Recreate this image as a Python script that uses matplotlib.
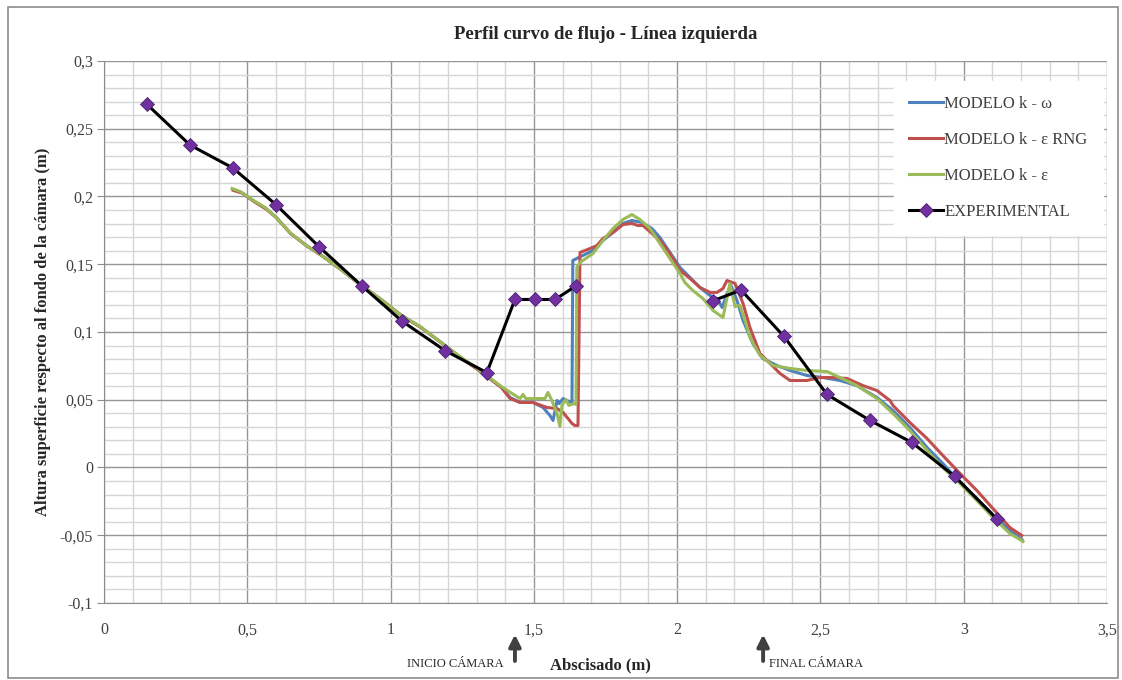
import matplotlib
matplotlib.use("Agg")
import matplotlib.pyplot as plt
from matplotlib.ticker import MultipleLocator, FuncFormatter
from matplotlib.patches import Rectangle

title = "Perfil curvo de flujo - Línea izquierda"
xlabel = "Abscisado (m)"
ylabel = "Altura superficie respecto al fondo de la cámara (m)"
labels = ["MODELO k - ω", "MODELO k - ε RNG", "MODELO k - ε", "EXPERIMENTAL"]

# experimental measurements (None marks the gap in the measured line)
exp_x = [0.15, 0.30, 0.45, 0.60, 0.75, 0.90, 1.04, 1.19, 1.336, 1.434, 1.504, 1.574,
         1.647, None, 2.125, 2.223, 2.373, 2.523, 2.673, 2.819, 2.969, 3.116]
exp_y = [0.268, 0.238, 0.221, 0.194, 0.163, 0.134, 0.108, 0.0863, 0.070, 0.124, 0.124, 0.124,
         0.134, None, 0.123, 0.131, 0.0967, 0.0539, 0.0347, 0.0185, -0.0066, -0.038]

green_x = [0.447, 0.475, 0.516, 0.562, 0.597, 0.649, 0.701, 0.754, 0.823, 0.893, 0.963, 1.033,
           1.103, 1.172, 1.242, 1.312, 1.382, 1.424, 1.452, 1.462, 1.472, 1.539, 1.549, 1.563,
           1.581, 1.591, 1.598, 1.612, 1.622, 1.640, 1.647, 1.650, 1.661, 1.706, 1.741, 1.776,
           1.811, 1.842, 1.870, 1.905, 1.940, 1.975, 2.010, 2.027, 2.055, 2.090, 2.125, 2.160,
           2.184, 2.202, 2.219, 2.237, 2.254, 2.289, 2.334, 2.394, 2.453, 2.523, 2.568, 2.627,
           2.697, 2.753, 2.812, 2.872, 2.927, 2.987, 3.046, 3.102, 3.161, 3.207]
green_y = [0.2059, 0.2037, 0.1978, 0.1919, 0.1852, 0.1734, 0.1646, 0.1572, 0.1469, 0.1351, 0.1247, 0.1129,
           0.1041, 0.0930, 0.0819, 0.0716, 0.0605, 0.0546, 0.0509, 0.0539, 0.0509, 0.0509, 0.0554, 0.0494,
           0.0399, 0.0303, 0.0458, 0.0502, 0.0458, 0.0472, 0.0465, 0.1476, 0.1513, 0.1579, 0.1675, 0.1764,
           0.1830, 0.1867, 0.1830, 0.1764, 0.1653, 0.1542, 0.1432, 0.1365, 0.1306, 0.1247, 0.1159, 0.1107,
           0.1358, 0.1188, 0.1196, 0.1085, 0.0959, 0.0827, 0.0753, 0.0731, 0.0716, 0.0708, 0.0664, 0.0605,
           0.0509, 0.0399, 0.0273, 0.0125, 0.0000, -0.0118, -0.0244, -0.0369, -0.0487, -0.0546]

blue_x = [0.450, 0.480, 0.520, 0.565, 0.600, 0.650, 0.705, 0.760, 0.825, 0.895, 0.965, 1.035,
          1.105, 1.175, 1.245, 1.315, 1.385, 1.417, 1.452, 1.497, 1.532, 1.556, 1.567, 1.581,
          1.588, 1.602, 1.615, 1.633, 1.636, 1.671, 1.706, 1.741, 1.776, 1.811, 1.842, 1.877,
          1.912, 1.940, 1.975, 2.010, 2.045, 2.080, 2.115, 2.139, 2.157, 2.174, 2.188, 2.209,
          2.230, 2.264, 2.299, 2.348, 2.394, 2.453, 2.509, 2.568, 2.627, 2.697, 2.753, 2.812,
          2.872, 2.927, 2.987, 3.046, 3.102, 3.161, 3.203]
blue_y = [0.2050, 0.2030, 0.1970, 0.1912, 0.1848, 0.1730, 0.1640, 0.1565, 0.1465, 0.1348, 0.1243, 0.1127,
          0.1036, 0.0925, 0.0812, 0.0708, 0.0595, 0.0517, 0.0480, 0.0480, 0.0443, 0.0384, 0.0347, 0.0494,
          0.0472, 0.0509, 0.0494, 0.0480, 0.1528, 0.1565, 0.1601, 0.1675, 0.1734, 0.1801, 0.1823, 0.1808,
          0.1764, 0.1697, 0.1587, 0.1476, 0.1402, 0.1328, 0.1269, 0.1247, 0.1181, 0.1284, 0.1343, 0.1232,
          0.1085, 0.0915, 0.0804, 0.0753, 0.0716, 0.0679, 0.0664, 0.0642, 0.0605, 0.0517, 0.0421, 0.0295,
          0.0148, 0.0030, -0.0111, -0.0229, -0.0354, -0.0465, -0.0531]

red_x = [0.452, 0.482, 0.522, 0.567, 0.602, 0.652, 0.707, 0.762, 0.827, 0.897, 0.967, 1.037,
         1.107, 1.177, 1.247, 1.317, 1.387, 1.417, 1.452, 1.497, 1.546, 1.581, 1.602, 1.619,
         1.633, 1.643, 1.654, 1.661, 1.696, 1.720, 1.741, 1.776, 1.811, 1.842, 1.863, 1.881,
         1.912, 1.940, 1.975, 2.010, 2.045, 2.080, 2.115, 2.139, 2.160, 2.174, 2.202, 2.230,
         2.254, 2.289, 2.324, 2.359, 2.394, 2.453, 2.498, 2.544, 2.593, 2.648, 2.697, 2.743,
         2.753, 2.812, 2.872, 2.927, 2.987, 3.046, 3.102, 3.161, 3.203]
red_y = [0.2045, 0.2025, 0.1965, 0.1905, 0.1842, 0.1725, 0.1636, 0.1560, 0.1460, 0.1345, 0.1240, 0.1123,
         0.1032, 0.0920, 0.0806, 0.0703, 0.0590, 0.0509, 0.0480, 0.0480, 0.0443, 0.0435, 0.0406, 0.0362,
         0.0325, 0.0310, 0.0310, 0.1587, 0.1616, 0.1638, 0.1690, 0.1734, 0.1793, 0.1801, 0.1786, 0.1786,
         0.1727, 0.1675, 0.1579, 0.1454, 0.1395, 0.1328, 0.1292, 0.1292, 0.1321, 0.1380, 0.1358, 0.1210,
         0.1033, 0.0841, 0.0768, 0.0694, 0.0642, 0.0642, 0.0664, 0.0664, 0.0657, 0.0605, 0.0568, 0.0494,
         0.0458, 0.0332, 0.0214, 0.0089, -0.0044, -0.0170, -0.0303, -0.0443, -0.0502]

arrow_x = [1.434, 2.30]
arrow_text = ["INICIO CÁMARA", "FINAL CÁMARA"]

plt.rcParams['font.family'] = ['Liberation Serif', 'DejaVu Serif']

fig = plt.figure(figsize=(11.22, 6.8), dpi=100)
ax = fig.add_axes([104/1122, 1-603/680, (1107-104)/1122, (603-61)/680])

ax.set_xlim(0, 3.5)
ax.set_ylim(-0.1, 0.3)
ax.xaxis.set_major_locator(MultipleLocator(0.5))
ax.xaxis.set_minor_locator(MultipleLocator(0.1))
ax.yaxis.set_major_locator(MultipleLocator(0.05))
ax.yaxis.set_minor_locator(MultipleLocator(0.01))

def fmt(v, pos):
    s = ("%.2f" % v).rstrip('0').rstrip('.')
    if s in ("-0", ""):
        s = "0"
    return s.replace('.', ',')
ax.xaxis.set_major_formatter(FuncFormatter(fmt))
ax.yaxis.set_major_formatter(FuncFormatter(fmt))

ax.grid(which='major', color='#969696', linewidth=1.0)
ax.grid(which='minor', color='#d6d6d6', linewidth=1.0)
ax.set_axisbelow(True)
for s in ['top', 'right']:
    ax.spines[s].set_visible(False)
ax.spines['left'].set_color('#8c8c8c')
ax.spines['bottom'].set_color('#8c8c8c')
ax.tick_params(which='major', axis='y', length=5, color='#8c8c8c', labelsize=11.5, labelcolor='#404040', pad=3)
ax.tick_params(which='major', axis='x', length=0, labelsize=11.5, labelcolor='#404040', pad=14)
ax.tick_params(which='minor', length=0)

ax.plot(blue_x, blue_y, color='#4F81BD', linewidth=2.2, label=labels[0], zorder=3)
ax.plot(red_x, red_y, color='#C0504D', linewidth=2.2, label=labels[1], zorder=3)
ax.plot(green_x, green_y, color='#9BBB59', linewidth=2.2, label=labels[2], zorder=3)
ex = [float('nan') if v is None else v for v in exp_x]
ey = [float('nan') if v is None else v for v in exp_y]
ax.plot(ex, ey, color='black', linewidth=2.2, marker='D', markersize=7,
        markerfacecolor='#7030A0', markeredgecolor='#4b2070', markeredgewidth=0.6,
        label=labels[3], zorder=4)

ax.set_title(title, fontsize=13.5, fontweight='bold', color='#262626', pad=16)
ax.set_ylabel(ylabel, fontsize=12, fontweight='bold', color='#262626', labelpad=6)
ax.set_xlabel(xlabel, fontsize=12, fontweight='bold', color='#262626', labelpad=0)
ax.xaxis.set_label_coords(0.495, -0.10)

leg = ax.legend(loc='upper left', bbox_to_anchor=(0.788, 0.963), frameon=True, fancybox=False,
                edgecolor='white', facecolor='white', framealpha=1.0, fontsize=12,
                handlelength=2.0, handletextpad=0.1, labelspacing=1.2, borderpad=0.9,
                borderaxespad=0)
for t in leg.get_texts():
    t.set_color('#404040')

trans = ax.get_xaxis_transform()
for xv, txt, ha, dx in zip(arrow_x, arrow_text, ['right', 'left'], [-0.04, 0.02]):
    ax.annotate('', xy=(xv, -0.058), xycoords=trans, xytext=(xv, -0.107), textcoords=trans,
                arrowprops=dict(arrowstyle='-|>,head_length=0.7,head_width=0.35', color='#404040',
                                linewidth=2.8, shrinkA=0, shrinkB=0), annotation_clip=False)
    ax.text(xv + dx, -0.113, txt, transform=trans, ha=ha, va='center', fontsize=9, color='#262626')

fig.patches.append(Rectangle((8/1122, 2/680), 1110/1122, 671/680, transform=fig.transFigure,
                             fill=False, edgecolor='#8c8c8c', linewidth=1.2))

fig.savefig('out.png', dpi=100)
